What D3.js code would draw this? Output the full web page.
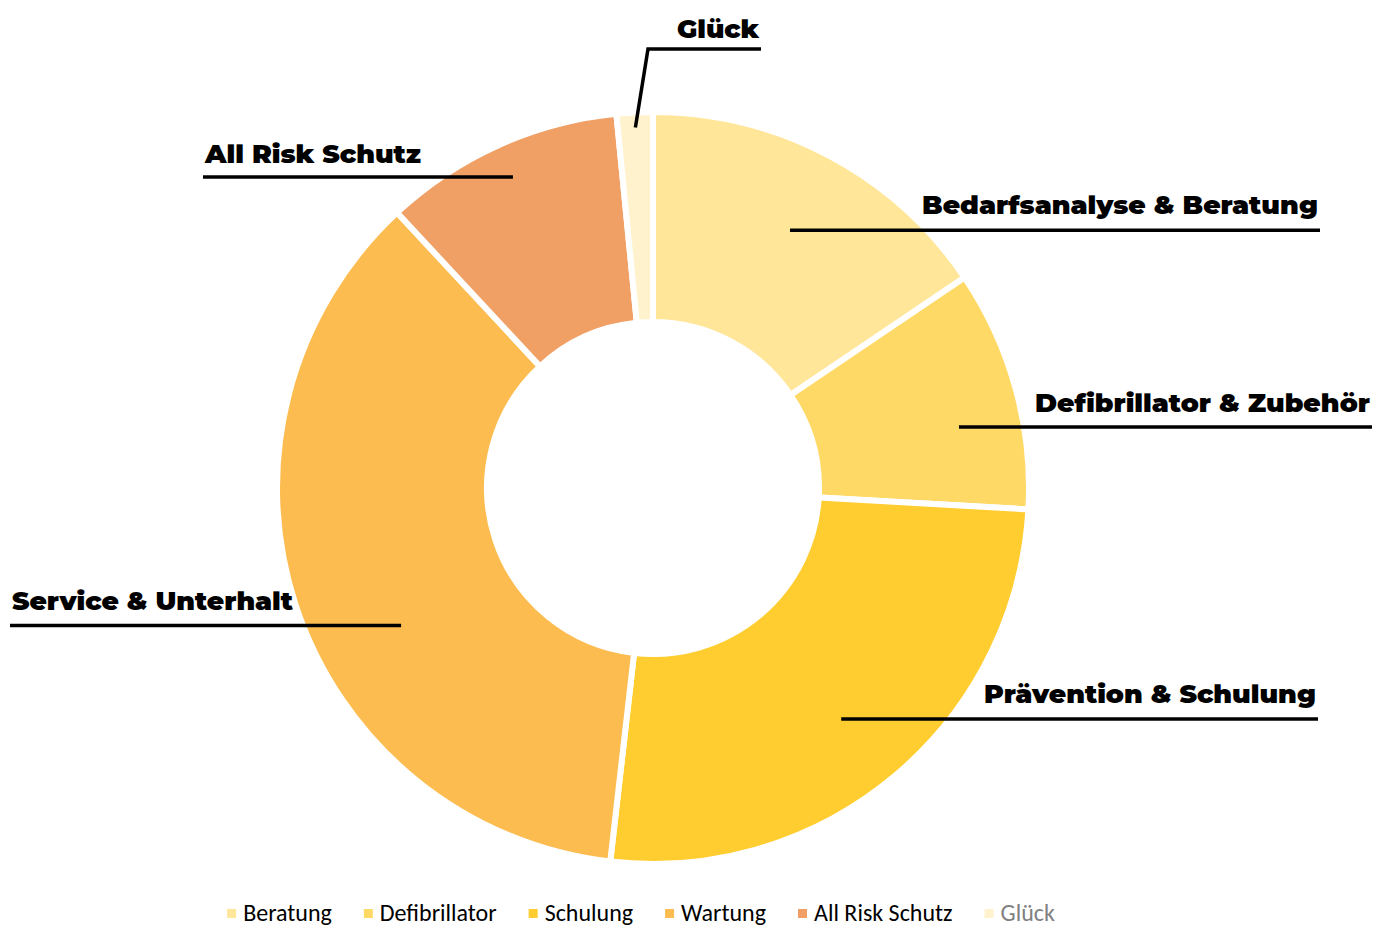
<!DOCTYPE html>
<html>
<head>
<meta charset="utf-8">
<script src="https://cdn.jsdelivr.net/npm/d3@7"></script>
<style>
  body { margin: 0; background: #fff; }
  .label { font-family: "Montserrat", "Lato", "Open Sans", sans-serif; font-weight: 900; fill: #000; }
  .legend text { font-family: "Carlito", "Liberation Sans Narrow", "Noto Sans", sans-serif; font-size: 24px; }
</style>
</head>
<body>
<div id="chart-area"></div>
<script>
/*
*    donut chart
*/

var width = 1376,
    height = 927;

// Data
var categories = ["Beratung", "Defibrillator", "Schulung", "Wartung", "All Risk Schutz", "Glück"];
var labels = ["Bedarfsanalyse & Beratung", "Defibrillator & Zubehör", "Prävention & Schulung",
              "Service & Unterhalt", "All Risk Schutz", "Glück"];
var values = [15, 10, 25, 35, 10, 1.5];
var colors = ["#FFE699", "#FFD966", "#FFCD2F", "#FDBC50", "#F09F65", "#FFF2CC"];

var svg = d3.select("#chart-area").append("svg")
    .attr("width", width)
    .attr("height", height);

var cx = 653, cy = 488;

var g = svg.append("g")
    .attr("transform", "translate(" + cx + "," + cy + ")");

var pie = d3.pie().sort(null).value(function(d){ return d; });
var arcs = pie(values);

var arc = d3.arc()
    .innerRadius(166)
    .outerRadius(376);

g.selectAll(".slice")
    .data(arcs)
    .enter()
    .append("path")
    .attr("class", "slice")
    .attr("d", arc)
    .attr("fill", function(d, i){ return colors[i]; })
    .attr("stroke", "#fff")
    .attr("stroke-width", 6);

// label callouts: where in the slice the line starts, and where the label sits
var callouts = [
    { frac: 0.5,  r: 292, end: 1320, side: "right", dy: -16, tlen: 396 },
    { frac: 0.61, r: 312, end: 1372, side: "right", dy: -15, tlen: 335 },
    { frac: 0.51, r: 298, end: 1318, side: "right", dy: -16, tlen: 332 },
    { frac: 0.42, r: 287, end: 10,   side: "left",  dy: -16, tlen: 281 },
    { frac: 0.5,  r: 341, end: 203,  side: "left",  dy: -14, tlen: 216 },
    { frac: 0.5,  r: 361, end: 761,  side: "up",    dy: -11, tlen: 82, elbowY: 49, elbowX: 648 }
];

var line = d3.line();

arcs.forEach(function(d, i) {
    var c = callouts[i];
    var a = d.startAngle + (d.endAngle - d.startAngle) * c.frac;
    var ax = cx + c.r * Math.sin(a),
        ay = cy - c.r * Math.cos(a);
    var pts, ty;
    if (c.side === "up") {
        pts = [[ax, ay], [c.elbowX, c.elbowY], [c.end, c.elbowY]];
        ty = c.elbowY;
    } else {
        pts = [[ax, ay], [c.end, ay]];
        ty = ay;
    }
    svg.append("path")
        .attr("d", line(pts))
        .attr("fill", "none")
        .attr("stroke", "#000")
        .attr("stroke-width", 3.5);

    var left = c.side === "left";
    svg.append("text")
        .attr("class", "label")
        .attr("x", left ? c.end + 2 : c.end - 2)
        .attr("y", ty + c.dy)
        .attr("text-anchor", left ? "start" : "end")
        .attr("font-size", 25)
        .attr("textLength", c.tlen)
        .attr("lengthAdjust", "spacingAndGlyphs")
        .text(labels[i]);
});

// Legend
var legend = svg.append("g").attr("class", "legend");
var items = legend.selectAll(".legend-row")
    .data(categories)
    .enter()
    .append("g")
    .attr("class", "legend-row");

items.append("rect")
    .attr("y", 909)
    .attr("width", 9)
    .attr("height", 9)
    .attr("fill", function(d, i){ return colors[i]; });

items.append("text")
    .attr("x", 16)
    .attr("y", 921)
    .attr("fill", function(d, i){ return i === 5 ? "#808080" : "#000"; })
    .text(function(d){ return d; });

var xs = [], pos = 0;
items.each(function() {
    var w = d3.select(this).select("text").node().getComputedTextLength();
    xs.push(pos);
    pos += 16 + w + 32;
});
var total = pos - 32;
var start = 641 - total / 2;
items.attr("transform", function(d, i){ return "translate(" + (start + xs[i]) + ",0)"; });
</script>
</body>
</html>
